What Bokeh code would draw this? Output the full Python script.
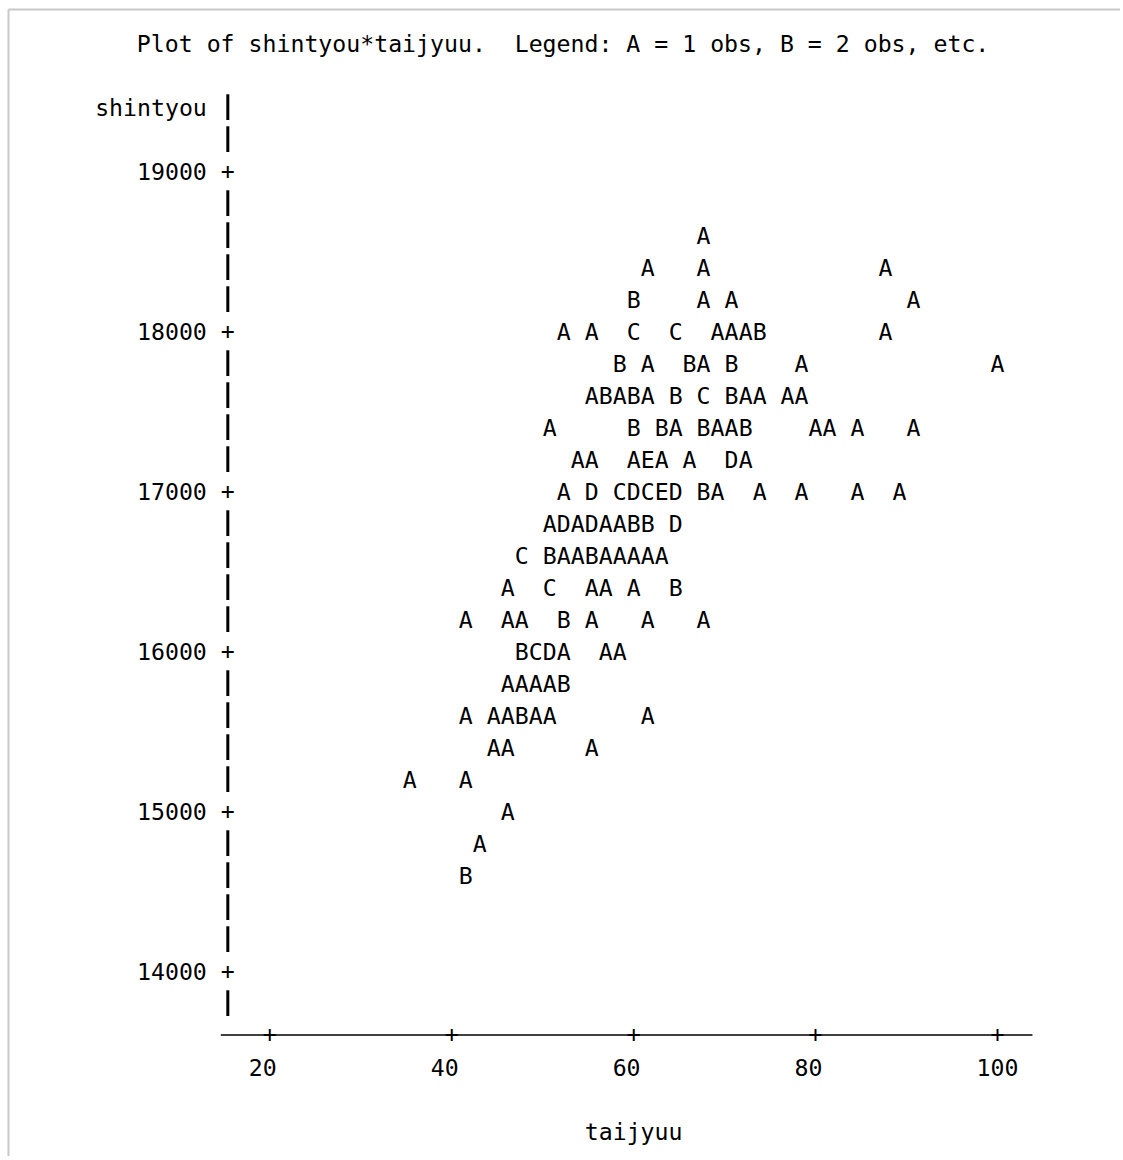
from bokeh.plotting import figure
from bokeh.models import ColumnDataSource, Range1d
from bokeh.core.properties import value
from bokeh.embed import file_html
from bokeh.resources import INLINE

# ---------------- data ----------------
title_left = "Plot of shintyou*taijyuu."
title_right = "Legend: A = 1 obs, B = 2 obs, etc."
x_label = "taijyuu"
y_label = "shintyou"
x_ticks = [20, 40, 60, 80, 100]
y_ticks = [14000, 15000, 16000, 17000, 18000, 19000]

taijyuu = [
    67.69,
    61.54, 67.69, 87.69,
    60.00, 67.69, 70.77, 90.77,
    52.31, 55.38, 60.00, 64.62, 69.23, 70.77, 72.31, 73.85, 87.69,
    58.46, 61.54, 66.15, 67.69, 70.77, 78.46, 100.00,
    55.38, 56.92, 58.46, 60.00, 61.54, 64.62, 67.69, 70.77, 72.31, 73.85, 76.92, 78.46,
    50.77, 60.00, 63.08, 64.62, 67.69, 69.23, 70.77, 72.31, 80.00, 81.54, 84.62, 90.77,
    53.85, 55.38, 60.00, 61.54, 63.08, 66.15, 70.77, 72.31,
    52.31, 55.38, 58.46, 60.00, 61.54, 63.08, 64.62, 67.69, 69.23, 73.85, 78.46, 84.62, 89.23,
    50.77, 52.31, 53.85, 55.38, 56.92, 58.46, 60.00, 61.54, 64.62,
    47.69, 50.77, 52.31, 53.85, 55.38, 56.92, 58.46, 60.00, 61.54, 63.08,
    46.15, 50.77, 55.38, 56.92, 60.00, 64.62,
    41.54, 46.15, 47.69, 52.31, 55.38, 61.54, 67.69,
    47.69, 49.23, 50.77, 52.31, 56.92, 58.46,
    46.15, 47.69, 49.23, 50.77, 52.31,
    41.54, 44.62, 46.15, 47.69, 49.23, 50.77, 61.54,
    44.62, 46.15, 55.38,
    35.38, 41.54,
    46.15,
    43.08,
    41.54,
]

shintyou = [
    18600,
    18400, 18400, 18400,
    18200, 18200, 18200, 18200,
    18000, 18000, 18000, 18000, 18000, 18000, 18000, 18000, 18000,
    17800, 17800, 17800, 17800, 17800, 17800, 17800,
    17600, 17600, 17600, 17600, 17600, 17600, 17600, 17600, 17600, 17600, 17600, 17600,
    17400, 17400, 17400, 17400, 17400, 17400, 17400, 17400, 17400, 17400, 17400, 17400,
    17200, 17200, 17200, 17200, 17200, 17200, 17200, 17200,
    17000, 17000, 17000, 17000, 17000, 17000, 17000, 17000, 17000, 17000, 17000, 17000, 17000,
    16800, 16800, 16800, 16800, 16800, 16800, 16800, 16800, 16800,
    16600, 16600, 16600, 16600, 16600, 16600, 16600, 16600, 16600, 16600,
    16400, 16400, 16400, 16400, 16400, 16400,
    16200, 16200, 16200, 16200, 16200, 16200, 16200,
    16000, 16000, 16000, 16000, 16000, 16000,
    15800, 15800, 15800, 15800, 15800,
    15600, 15600, 15600, 15600, 15600, 15600, 15600,
    15400, 15400, 15400,
    15200, 15200,
    15000,
    14800,
    14600,
]

n_obs = [
    1,
    1, 1, 1,
    2, 1, 1, 1,
    1, 1, 3, 3, 1, 1, 1, 2, 1,
    2, 1, 2, 1, 2, 1, 1,
    1, 2, 1, 2, 1, 2, 3, 2, 1, 1, 1, 1,
    1, 2, 2, 1, 2, 1, 1, 2, 1, 1, 1, 1,
    1, 1, 1, 5, 1, 1, 4, 1,
    1, 4, 3, 4, 3, 5, 4, 2, 1, 1, 1, 1, 1,
    1, 4, 1, 4, 1, 1, 2, 2, 4,
    3, 2, 1, 1, 2, 1, 1, 1, 1, 1,
    1, 3, 1, 1, 1, 2,
    1, 1, 1, 2, 1, 1, 1,
    2, 3, 4, 1, 1, 1,
    1, 1, 1, 1, 2,
    1, 1, 1, 2, 1, 1, 1,
    1, 1, 1,
    1, 1,
    1,
    1,
    2,
]

# ---------------- layout / style ----------------
W, H = 1120, 1156
PX_X = 9.096          # pixels per taijyuu unit
PX_Y = 0.16           # pixels per shintyou unit
X0 = 20 - 269.3 / PX_X
X1 = X0 + W / PX_X
Y1 = 19000 + 170.5 / PX_Y
Y0 = Y1 - H / PX_Y
CW = (x_ticks[1] - x_ticks[0]) / 13.0     # one printer column in x units
ROW = (y_ticks[1] - y_ticks[0]) / 5.0     # one printer line in y units

FONT = value("DejaVu Sans Mono")
FS = "23.2px"
INK = "#000000"

p = figure(width=W, height=H, x_range=Range1d(X0, X1), y_range=Range1d(Y0, Y1),
           output_backend="svg", toolbar_location=None, min_border=0,
           x_axis_type=None, y_axis_type=None)
p.grid.visible = False
p.outline_line_color = None
p.background_fill_color = "white"
p.border_fill_color = "white"

# page frame (top and left edges)
fx = X0 + 8 / PX_X
fy = Y1 - 9 / PX_Y
p.segment(x0=[fx, fx], y0=[fy, Y0], x1=[X1, fx], y1=[fy, fy],
          line_color="#c8c8c8", line_width=2)

axis_x = x_ticks[0] - 3 * CW
label_right = x_ticks[0] - 4.5 * CW
top_row = y_ticks[-1] + 2 * ROW
bottom_row = y_ticks[0] - ROW
xaxis_row = y_ticks[0] - 2 * ROW
title_row = y_ticks[-1] + 4 * ROW

# title (two blanks between the two parts, as on the printer page)
p.text(x=[x_ticks[0] - 9.5 * CW, x_ticks[0] + 17.5 * CW], y=[title_row, title_row],
       text=[title_left, title_right],
       text_font=FONT, text_font_size=FS, text_color=INK,
       text_align="left", text_baseline="middle")

# vertical axis: "|" bars on non-tick lines, "+" at ticks
bar_rows = []
r = top_row
while r >= bottom_row - 1e-6:
    if all(abs(r - t) > 1e-6 for t in y_ticks):
        bar_rows.append(r)
    r -= ROW
p.segment(x0=[axis_x] * len(bar_rows), x1=[axis_x] * len(bar_rows),
          y0=[b - 82 for b in bar_rows], y1=[b + 80 for b in bar_rows],
          line_color=INK, line_width=3)
p.text(x=[axis_x] * len(y_ticks), y=y_ticks, text=["+"] * len(y_ticks),
       text_font=FONT, text_font_size=FS, text_color=INK,
       text_align="center", text_baseline="middle", y_offset=-1)
p.text(x=[label_right] * len(y_ticks), y=y_ticks, text=[str(t) for t in y_ticks],
       text_font=FONT, text_font_size=FS, text_color=INK,
       text_align="right", text_baseline="middle")
p.text(x=[label_right], y=[top_row], text=[y_label],
       text_font=FONT, text_font_size=FS, text_color=INK,
       text_align="right", text_baseline="middle")

# horizontal axis: line with "+" at ticks
p.segment(x0=[x_ticks[0] - 3.5 * CW], x1=[x_ticks[-1] + 2.5 * CW],
          y0=[xaxis_row], y1=[xaxis_row], line_color=INK, line_width=1.5)
p.text(x=x_ticks, y=[xaxis_row] * len(x_ticks), text=["+"] * len(x_ticks),
       text_font=FONT, text_font_size=FS, text_color=INK,
       text_align="center", text_baseline="middle", y_offset=-2)
p.text(x=[t - 1.5 * CW for t in x_ticks], y=[xaxis_row - ROW] * len(x_ticks),
       text=[str(t) for t in x_ticks],
       text_font=FONT, text_font_size=FS, text_color=INK,
       text_align="left", text_baseline="middle")
p.text(x=[(x_ticks[0] + x_ticks[-1]) / 2], y=[xaxis_row - 3 * ROW], text=[x_label],
       text_font=FONT, text_font_size=FS, text_color=INK,
       text_align="center", text_baseline="middle")

# plotted symbols: A = 1 obs, B = 2 obs, ...
src = ColumnDataSource(dict(
    taijyuu=taijyuu, shintyou=shintyou,
    sym=[chr(ord("A") + n - 1) for n in n_obs],
))
p.text(x="taijyuu", y="shintyou", text="sym", source=src,
       text_font=FONT, text_font_size=FS, text_color=INK,
       text_align="center", text_baseline="middle")

open("out.html", "w").write(file_html(p, INLINE))
